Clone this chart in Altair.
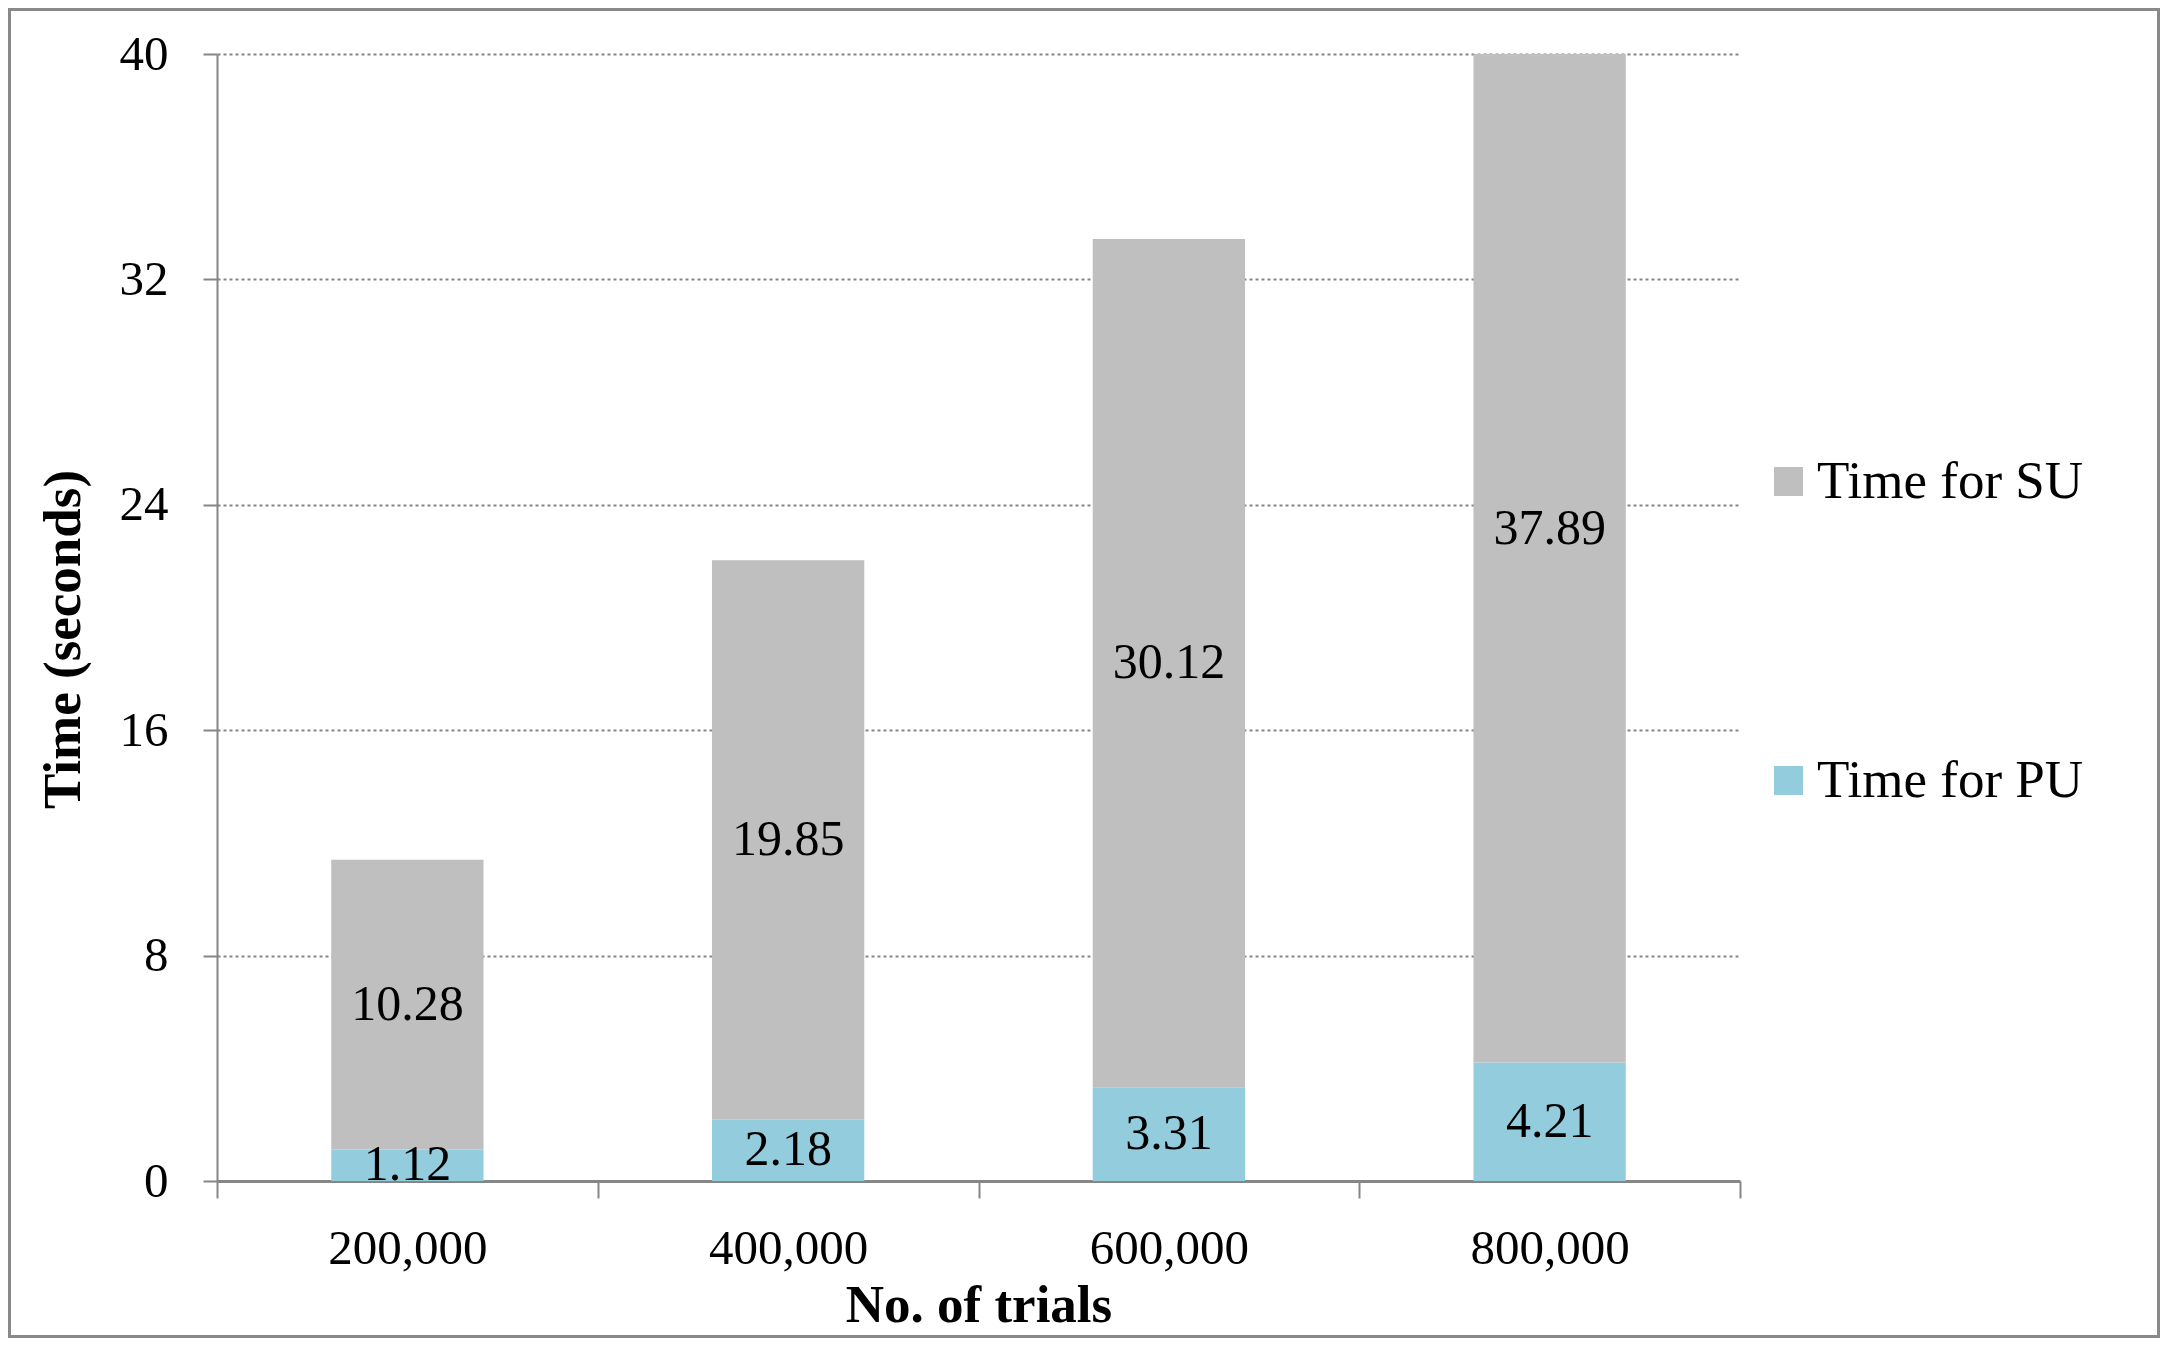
import altair as alt
import pandas as pd

trials = ["200,000", "400,000", "600,000", "800,000"]
pu_time = [1.12, 2.18, 3.31, 4.21]
su_time = [10.28, 19.85, 30.12, 37.89]
series = ["Time for PU", "Time for SU"]
legend_order = ["Time for SU", "Time for PU"]
series_colors = {"Time for SU": "#BFBFBF", "Time for PU": "#93CDDD"}
y_ticks = [0, 8, 16, 24, 32, 40]

rows = []
for i, t in enumerate(trials):
    rows.append({"trials": t, "series": series[0], "val": pu_time[i], "ord": 0})
    rows.append({"trials": t, "series": series[1], "val": su_time[i], "ord": 1})
df = pd.DataFrame(rows)

FONT = "Liberation Serif"
AX = "#868686"
W, H = 1523, 1127
PAD = {"left": 209, "top": 46, "right": 420, "bottom": 157}

base = alt.Chart(df).transform_stack(
    stack="val", groupby=["trials"], sort=[alt.SortField("ord")], as_=["y0", "y1"]
).transform_calculate(mid="(datum.y0 + datum.y1) / 2")

x_enc = alt.X(
    "trials:N",
    sort=trials,
    scale=alt.Scale(paddingInner=0, paddingOuter=0),
    axis=alt.Axis(
        title="No. of trials",
        labelAngle=0,
        tickBand="extent",
        labelFont=FONT, labelFontSize=49, labelColor="black",
        labelPadding=26,
        titleFont=FONT, titleFontSize=53, titleFontWeight="bold", titleColor="black",
        titlePadding=6,
        domainColor=AX, domainWidth=3,
        tickColor=AX, tickWidth=2, tickSize=17,
        grid=False,
    ),
)

y_scale = alt.Scale(domain=[0, 40], nice=False)

bars = base.mark_bar(width={"band": 0.4}, clip=True).encode(
    x=x_enc,
    y=alt.Y(
        "y0:Q",
        scale=y_scale,
        axis=alt.Axis(
            values=y_ticks,
            title="Time (seconds)",
            labelFont=FONT, labelFontSize=49, labelColor="black",
            labelPadding=35,
            titleFont=FONT, titleFontSize=53, titleFontWeight="bold", titleColor="black",
            titlePadding=29,
            titleY=585,
            domainColor=AX, domainWidth=2,
            tickColor=AX, tickWidth=2, tickSize=14,
            grid=True, gridColor=AX, gridWidth=2, gridDash=[3, 3],
        ),
    ),
    y2="y1:Q",
    color=alt.Color(
        "series:N",
        scale=alt.Scale(domain=legend_order, range=[series_colors[s] for s in legend_order]),
        legend=alt.Legend(
            title=None,
            orient="none",
            legendX=1545,
            legendY=401,
            direction="vertical",
            symbolType="square",
            symbolSize=841,
            symbolStrokeWidth=0,
            labelFont=FONT,
            labelFontSize=53,
            labelColor="black",
            labelOffset=2,
            rowPadding=245,
            labelLimit=600,
        ),
    ),
    order=alt.Order("ord:Q"),
)

labels = base.mark_text(font=FONT, fontSize=50, color="black", baseline="middle").encode(
    x=alt.X("trials:N", sort=trials),
    y=alt.Y("mid:Q", scale=y_scale),
    text=alt.Text("val:Q", format=".2f"),
)

frame = alt.Chart(pd.DataFrame({"f": [0]})).mark_rect(
    filled=False, stroke="#898989", strokeWidth=3
).encode(
    x=alt.value(-PAD["left"] + 1.5),
    x2=alt.value(W + PAD["right"] - 1.5),
    y=alt.value(-PAD["top"] + 1.5),
    y2=alt.value(H + PAD["bottom"] - 1.5),
)

chart = alt.layer(bars, labels, frame).properties(
    width=W,
    height=H,
    padding=PAD,
    autosize=alt.AutoSizeParams(type="none"),
    background="white",
).configure_view(stroke=None)

chart.save("out.html", embed_options={"renderer": "svg", "actions": False})
